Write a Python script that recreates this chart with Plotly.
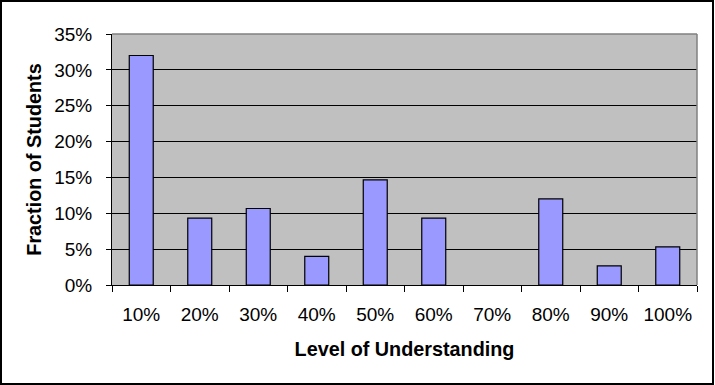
import plotly.graph_objects as go

categories = ["10%", "20%", "30%", "40%", "50%", "60%", "70%", "80%", "90%", "100%"]
fractions = [0.32, 0.0933, 0.1067, 0.04, 0.1467, 0.0933, 0.0, 0.12, 0.0267, 0.0533]
y_title = "Fraction of Students"
x_title = "Level of Understanding"

W, H = 715, 385
ML, MR, MT, MB = 112, 18, 34, 100
PW, PH = W - ML - MR, H - MT - MB

fig = go.Figure(go.Bar(
    x=categories, y=fractions,
    marker=dict(color="#9999FF",
                line=dict(color="black", width=[1.2 if v > 0 else 0 for v in fractions])),
))

font = "Liberation Sans, Arial, sans-serif"

def px_x(p):
    return (p - ML) / PW

def px_y(p):
    return (H - MB - p) / PH

fig.update_layout(
    width=W, height=H,
    margin=dict(l=ML, r=MR, t=MT, b=MB),
    paper_bgcolor="white", plot_bgcolor="#C0C0C0",
    bargap=0.59, showlegend=False,
    font=dict(family=font, size=19, color="black"),
    xaxis=dict(
        type="category", tickson="boundaries", ticks="outside", ticklen=6,
        tickcolor="black", showline=True, linecolor="black", linewidth=1,
        showgrid=False, ticklabelstandoff=12,
        title=dict(text=x_title, font=dict(family=font, size=19.8, weight="bold"), standoff=18),
    ),
    yaxis=dict(
        range=[0, 0.35], dtick=0.05, tickformat=".0%", ticks="outside", ticklen=5,
        tickcolor="black", showline=True, linecolor="black", linewidth=1,
        showgrid=True, gridcolor="black", gridwidth=1, zeroline=False,
        ticklabelstandoff=10,
        title=dict(text=y_title, font=dict(family=font, size=19.8, weight="bold"), standoff=7),
    ),
    shapes=[
        dict(type="line", xref="paper", yref="paper", x0=0, x1=1, y0=1, y1=1,
             line=dict(color="#808080", width=1.5), layer="above"),
        dict(type="line", xref="paper", yref="paper", x0=1, x1=1, y0=0, y1=1,
             line=dict(color="#808080", width=1.5), layer="above"),
        dict(type="rect", xref="paper", yref="paper",
             x0=px_x(1), x1=px_x(713), y0=px_y(384), y1=px_y(1),
             line=dict(color="black", width=2), layer="above"),
    ],
)

fig.write_html("out.html", config={"displayModeBar": False},
               post_script="document.body.style.margin='0';document.body.style.overflow='hidden';")
